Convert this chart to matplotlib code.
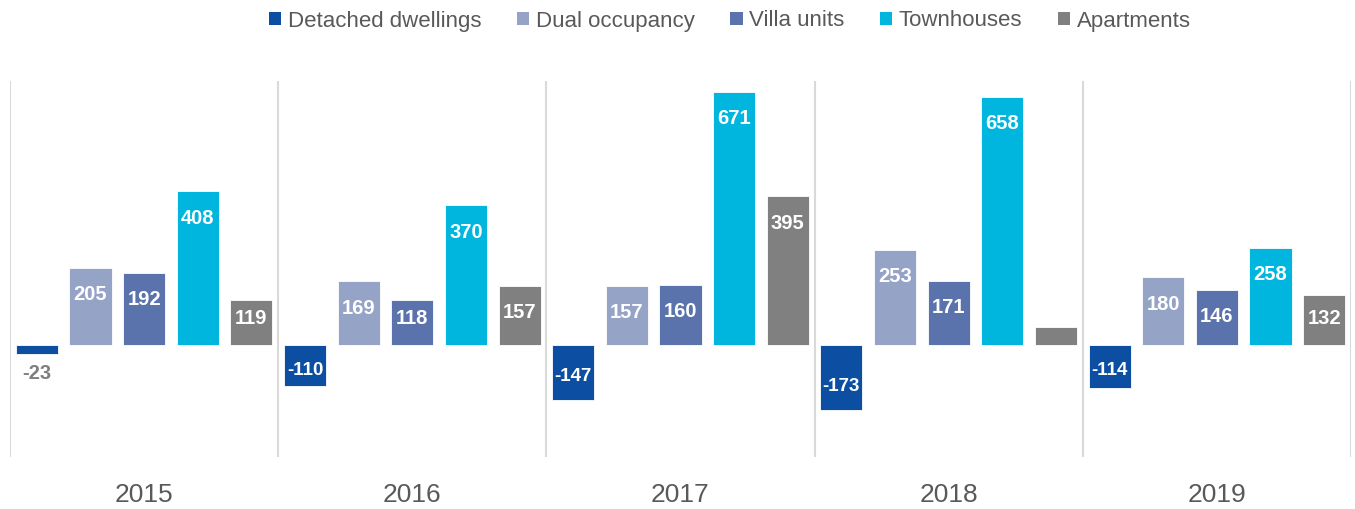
import matplotlib.pyplot as plt
import numpy as np

years = ['2015', '2016', '2017', '2018', '2019']
series = ['Detached dwellings', 'Dual occupancy', 'Villa units', 'Townhouses', 'Apartments']
detached = [-23, -110, -147, -173, -114]
dual = [205, 169, 157, 253, 180]
villa = [192, 118, 160, 171, 146]
townhouses = [408, 370, 671, 658, 258]
apartments = [119, 157, 395, 48, 132]
colors = ['#0B4EA2', '#95A3C7', '#5A73AD', '#00B6DE', '#808080']

plt.rcParams['font.family'] = ['Liberation Sans', 'DejaVu Sans']

fig = plt.figure(figsize=(13.55, 5.09), dpi=100)
ax = fig.add_axes([10 / 1355, 1 - 457 / 509, 1341 / 1355, 376 / 509])

x = np.arange(len(years))
slot = 0.2
width = 0.157
all_vals = [detached, dual, villa, townhouses, apartments]
ymin, ymax = -297, 700
px_per_unit = 376 / (ymax - ymin)

for i, (name, vals, c) in enumerate(zip(series, all_vals, colors)):
    pos = x - 0.4 + i * slot
    ax.bar(pos, vals, width, color=c, label=name, edgecolor='white', linewidth=0.6)
    for px_, v in zip(pos, vals):
        if name == 'Apartments' and v < 60:
            continue  # no label on the small 2018 bar
        if abs(v) < 50:
            ax.annotate(str(v), (px_, v), xytext=(0, -14 if v < 0 else 14),
                        textcoords='offset points', ha='center', va='center',
                        color='#7F7F7F', fontsize=14.5, fontweight='bold')
        else:
            # inside end, pulled in a bit for short bars
            h = abs(v) * px_per_unit
            off = min(24 if v < 0 else 27, h - 26) * 0.72
            ax.annotate(str(v), (px_, v), xytext=(0, off if v < 0 else -off),
                        textcoords='offset points', ha='center', va='center',
                        color='white', fontsize=14.5 if v > 0 else 13.5,
                        fontweight='bold')

for b in np.arange(-0.5, 5, 1):
    ax.axvline(b, color='#D9D9D9', linewidth=1.5)

ax.set_xlim(-0.5, 4.5)
ax.set_ylim(ymin, ymax)
ax.set_yticks([])
ax.set_xticks(x)
ax.set_xticklabels(years, fontsize=19, color='#595959')
ax.tick_params(axis='x', length=0, pad=19)
for s in ax.spines.values():
    s.set_visible(False)

leg = fig.legend(loc='center', bbox_to_anchor=(730 / 1355, 1 - 21 / 509), ncol=5,
                 frameon=False, fontsize=16, handlelength=0.55, handleheight=0.55,
                 handletextpad=0.3, columnspacing=1.6, labelcolor='#595959')
for h in leg.legend_handles:
    h.set_edgecolor('none')

fig.savefig('out.png', dpi=100)
